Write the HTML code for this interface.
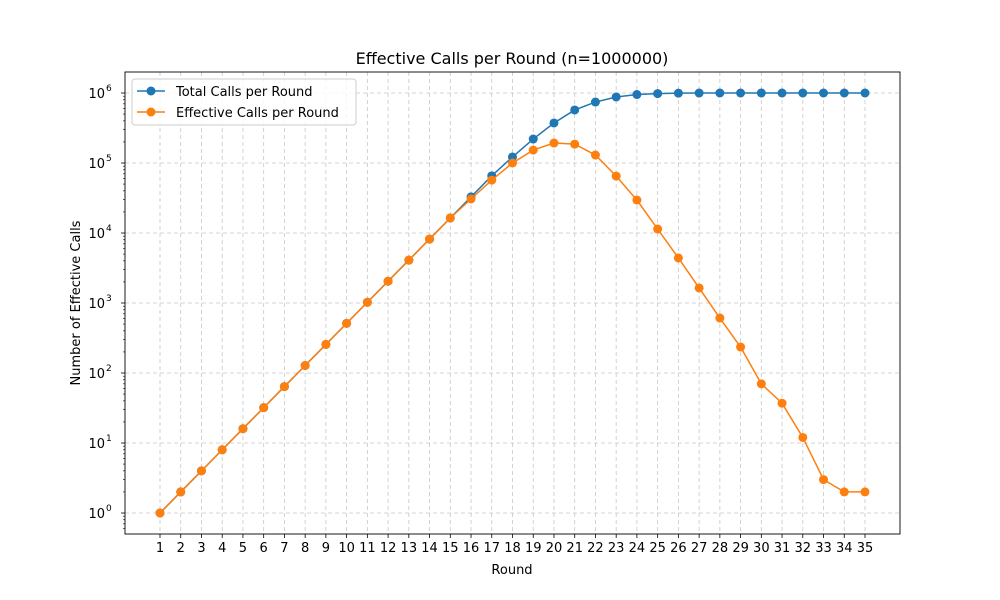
<!DOCTYPE html>
<html><head><meta charset="utf-8"><style>
body{margin:0;background:#fff;}
svg{display:block;font-family:"DejaVu Sans","Liberation Sans",sans-serif;}
</style></head><body>
<svg id="chart" width="1000" height="600"></svg>
<script>
const rounds=[1,2,3,4,5,6,7,8,9,10,11,12,13,14,15,16,17,18,19,20,21,22,23,24,25,26,27,28,29,30,31,32,33,34,35];
const totalCalls=[1,2,4,8,16,32,64,128,256,512,1024,2048,4096,8192,16384,32768,65536,122000,220000,373000,572000,743000,877000,950000,980000,995000,999000,1000000,1000000,1000000,1000000,1000000,1000000,1000000,1000000];
const effectiveCalls=[1,2,4,8,16,32,64,128,256,512,1024,2048,4096,8192,16384,30600,57000,100000,153000,193000,186000,130000,65000,29600,11400,4400,1640,610,235,70,37,12,3,2,2];
const yTickExps=[0,1,2,3,4,5,6];

const NS="http://www.w3.org/2000/svg";
const svg=document.getElementById('chart');
const L=125,R=900,T=72,B=534;
const x=r=>160+(r-1)*(865-160)/34;
const y=v=>513-Math.log10(v)*70;
function mk(tag,attrs,parent){const e=document.createElementNS(NS,tag);for(const k in attrs)e.setAttribute(k,attrs[k]);(parent||svg).appendChild(e);return e;}

// grid
rounds.forEach(r=>{const g=mk('line',{x1:x(r),x2:x(r),y1:T,y2:B,stroke:'#b0b0b0','stroke-width':0.8,'stroke-dasharray':'4,3',opacity:0.7});

});
yTickExps.forEach(e=>{const g=mk('line',{x1:L,x2:R,y1:y(Math.pow(10,e)),y2:y(Math.pow(10,e)),stroke:'#b0b0b0','stroke-width':0.8,'stroke-dasharray':'4,3',opacity:0.7});

});

// ticks
rounds.forEach(r=>{mk('line',{x1:x(r),x2:x(r),y1:B,y2:B+4,stroke:'#000','stroke-width':0.8});
const t=mk('text',{x:x(r),y:B+18,'text-anchor':'middle','font-size':13});t.textContent=r;

});
for(let e=-1;e<=6;e++){for(let m=2;m<=9;m++){const v=m*Math.pow(10,e);const yy=y(v);if(yy<T||yy>B)continue;mk('line',{x1:L-2,x2:L,y1:yy,y2:yy,stroke:'#000','stroke-width':0.6});}}
yTickExps.forEach(e=>{const yy=y(Math.pow(10,e));mk('line',{x1:L-4,x2:L,y1:yy,y2:yy,stroke:'#000','stroke-width':0.8});
const t=mk('text',{x:L-20,y:yy+5,'text-anchor':'end','font-size':13});t.textContent='10';


const s=mk('text',{x:L-19,y:yy-2,'text-anchor':'start','font-size':9});s.textContent=e;});

function series(vals,color,name){
const p=mk('polyline',{points:vals.map((v,i)=>x(rounds[i])+','+y(v)).join(' '),fill:'none',stroke:color,'stroke-width':1.5});


vals.forEach((v,i)=>{const c=mk('circle',{cx:x(rounds[i]),cy:y(v),r:4.5,fill:color});

});}
series(totalCalls,'#1f77b4','total-calls');
series(effectiveCalls,'#ff7f0e','effective-calls');

// frame
const f=mk('rect',{x:L,y:T,width:R-L,height:B-T,fill:'none',stroke:'#000','stroke-width':0.9});



// legend
const lg=mk('g',{});


mk('rect',{x:132,y:79,width:224,height:46,rx:3,fill:'#fff','fill-opacity':0.8,stroke:'#ccc'},lg);
[['Total Calls per Round','#1f77b4',91],['Effective Calls per Round','#ff7f0e',112]].forEach(([n,c,yy])=>{
mk('line',{x1:137,x2:165,y1:yy,y2:yy,stroke:c,'stroke-width':1.5},lg);
mk('circle',{cx:151,cy:yy,r:4.5,fill:c},lg);
const t=mk('text',{x:176,y:yy+5,'font-size':13},lg);t.textContent=n;

});

const ti=mk('text',{x:512,y:64,'text-anchor':'middle','font-size':16});ti.textContent='Effective Calls per Round (n=1000000)';


const xt=mk('text',{x:512,y:574,'text-anchor':'middle','font-size':13});xt.textContent='Round';


const yt=mk('text',{x:80,y:303,'text-anchor':'middle','font-size':13,transform:'rotate(-90 80 303)'});yt.textContent='Number of Effective Calls';


</script>
</body></html>
